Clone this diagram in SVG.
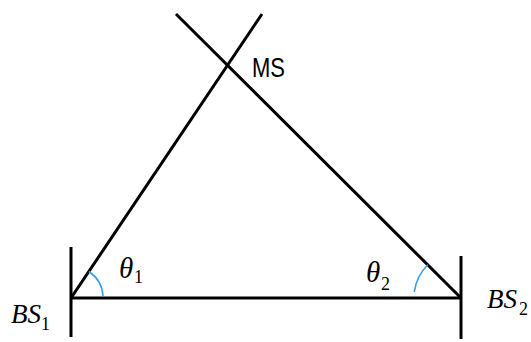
<svg xmlns="http://www.w3.org/2000/svg" width="531" height="342" viewBox="0 0 531 342">
<style>
.ln{stroke:#000;stroke-width:3;fill:none;stroke-linecap:butt}
.arc{stroke:#3a9fe8;stroke-width:1.6;fill:none}
.m{font-family:"Liberation Serif",serif;font-style:italic;fill:#000}
.sub{font-family:"Liberation Serif",serif;fill:#000;font-size:18px}
.lab{font-family:"Liberation Sans",Arial,sans-serif;fill:#000;font-size:27px}
</style>
<rect width="531" height="342" fill="#fff"/>
<g id="connectors">
<line class="ln" x1="71" y1="298" x2="262" y2="14"/>
<line class="ln" x1="461" y1="298" x2="176" y2="14"/>
<line class="ln" x1="71" y1="298" x2="461" y2="298"/>
<path class="arc" d="M88.9 271.5 A32 32 0 0 1 103 296"/>
<path class="arc" d="M427.8 264.8 A47 47 0 0 0 414.3 292"/>
<text class="m" x="119" y="278" font-size="29">θ</text><text class="sub" x="134" y="283">1</text>
<text class="m" x="366" y="282" font-size="29">θ</text><text class="sub" x="381" y="290">2</text>
</g>
<g id="BS1">
<line class="ln" x1="71" y1="247" x2="71" y2="337"/>
<text class="m" x="11" y="323" font-size="27">BS</text><text class="sub" x="41" y="330">1</text>
</g>
<g id="BS2">
<line class="ln" x1="461" y1="256" x2="461" y2="339"/>
<text class="m" x="487" y="308" font-size="27">BS</text><text class="sub" x="519" y="315">2</text>
</g>
<g id="MS">
<text class="lab" x="252" y="77" textLength="33" lengthAdjust="spacingAndGlyphs">MS</text>
</g>
</svg>
